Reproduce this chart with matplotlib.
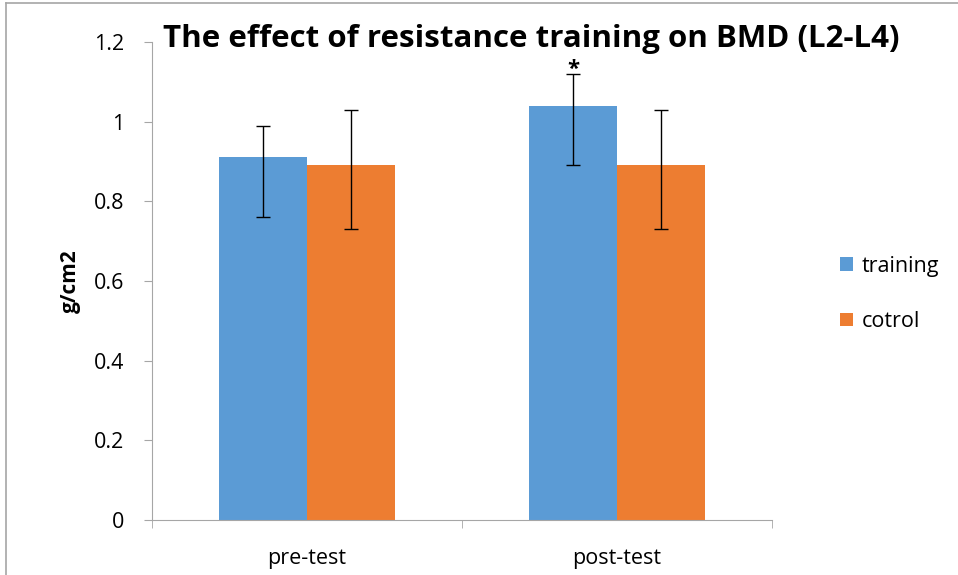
import matplotlib.pyplot as plt
import numpy as np
from matplotlib.lines import Line2D

# data
groups = ['pre-test', 'post-test']
training = [0.91, 1.04]
training_up = [0.08, 0.08]
training_low = [0.15, 0.15]
control = [0.89, 0.89]
control_up = [0.14, 0.14]
control_low = [0.16, 0.16]
yticks = [0, 0.2, 0.4, 0.6, 0.8, 1, 1.2]

blue = '#5B9BD5'
orange = '#ED7D31'

plt.rcParams['font.family'] = ['Open Sans', 'DejaVu Sans']

fig = plt.figure(figsize=(9.58, 5.75), dpi=100)
ax = fig.add_axes([0.1587, 0.0957, 0.6473, 0.8313])

x = np.arange(len(groups))
w = 0.285
ax.bar(x - w / 2, training, w, color=blue, label='training',
       yerr=[training_low, training_up], capsize=5,
       error_kw=dict(elinewidth=1, capthick=1, ecolor='black'))
ax.bar(x + w / 2, control, w, color=orange, label='cotrol',
       yerr=[control_low, control_up], capsize=5,
       error_kw=dict(elinewidth=1, capthick=1, ecolor='black'))

# significance mark
ax.text(x[1] - w / 2, training[1] + training_up[1] - 0.003, '*',
        ha='center', va='baseline', fontsize=16, fontweight='bold')

ax.set_xlim(-0.5, 1.5)
ax.set_ylim(0, 1.2)
ax.set_yticks(yticks)
ax.set_yticklabels(['0', '0.2', '0.4', '0.6', '0.8', '1', '1.2'])
ax.set_xticks(x)
ax.set_xticklabels(groups)
ax.set_xticks([-0.5, 0.5, 1.5], minor=True)
ax.tick_params(axis='x', which='major', length=0, pad=20, labelsize=15.5)
ax.tick_params(axis='x', which='minor', length=6, color='#A6A6A6')
ax.tick_params(axis='y', length=6, color='#A6A6A6', labelsize=15.5, pad=14)

for s in ['top', 'right']:
    ax.spines[s].set_visible(False)
for s in ['left', 'bottom']:
    ax.spines[s].set_color('#A6A6A6')

ax.set_ylabel('g/cm2', fontsize=15, fontweight='bold', labelpad=9)

fig.text(0.555, 0.918, 'The effect of resistance training on BMD (L2-L4)',
         ha='center', va='baseline', fontsize=22.5, fontweight='bold')

handles, labels = ax.get_legend_handles_labels()
fig.legend(handles, labels, loc='center left', bbox_to_anchor=(0.857, 0.489),
           frameon=False, fontsize=15.5, handlelength=0.6, handleheight=0.6,
           handletextpad=0.4, labelspacing=1.6)

# outer chart frame (top and left edges visible)
fig.add_artist(Line2D([0.006, 1.0], [0.995, 0.995], color='#A6A6A6', lw=1.2,
                      transform=fig.transFigure))
fig.add_artist(Line2D([0.006, 0.006], [0.0, 0.995], color='#A6A6A6', lw=1.2,
                      transform=fig.transFigure))

fig.savefig('out.png', dpi=100)
